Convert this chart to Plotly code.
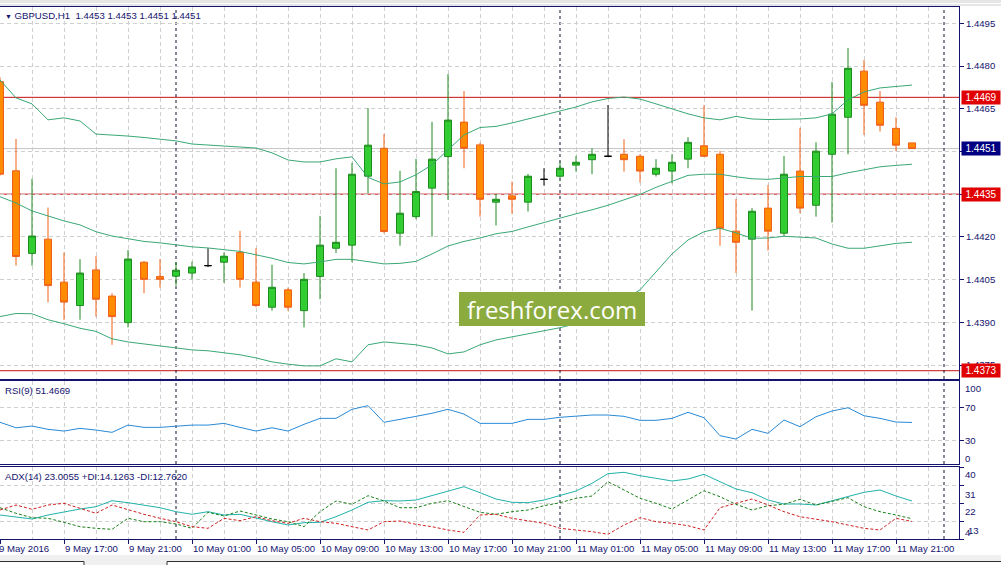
import pandas as pd
import plotly.graph_objects as go
from plotly.subplots import make_subplots

# GBPUSD H1, 9 May 13:00 .. 11 May 22:00
times = pd.date_range("2016-05-09 13:00", periods=58, freq="h")

opens = [1.44745, 1.44432, 1.44142, 1.44192, 1.44041, 1.43959, 1.44084, 1.43992, 1.43899, 1.44111,
         1.44061, 1.44062, 1.44073, 1.44099, 1.44111, 1.44145, 1.44041, 1.43953, 1.44014, 1.43941,
         1.44061, 1.44160, 1.44171, 1.44413, 1.44511, 1.44213, 1.44271, 1.44371, 1.44482, 1.44603,
         1.44523, 1.44322, 1.44344, 1.44322, 1.44402, 1.44413, 1.44452, 1.44471, 1.44483, 1.44490,
         1.44483, 1.44420, 1.44431, 1.44473, 1.44520, 1.44490, 1.44220, 1.44192, 1.44301, 1.44213,
         1.44431, 1.44311, 1.44490, 1.44620, 1.44782, 1.44673, 1.44581, 1.44530]
highs = [1.44760, 1.44544, 1.44404, 1.44303, 1.44145, 1.44122, 1.44133, 1.44002, 1.44154, 1.44115,
         1.44122, 1.44111, 1.44113, 1.44160, 1.44145, 1.44221, 1.44160, 1.44102, 1.44022, 1.44073,
         1.44274, 1.44441, 1.44460, 1.44652, 1.44561, 1.44432, 1.44474, 1.44604, 1.44772, 1.44712,
         1.44530, 1.44351, 1.44394, 1.44421, 1.44441, 1.44464, 1.44484, 1.44511, 1.44663, 1.44543,
         1.44490, 1.44473, 1.44490, 1.44550, 1.44662, 1.44502, 1.44333, 1.44301, 1.44382, 1.44484,
         1.44583, 1.44532, 1.44744, 1.44863, 1.44821, 1.44712, 1.44620, 1.44530]
lows = [1.44415, 1.44099, 1.44099, 1.43970, 1.43909, 1.43909, 1.43920, 1.43821, 1.43882, 1.44002,
        1.44022, 1.44029, 1.44051, 1.44094, 1.44039, 1.44022, 1.43953, 1.43941, 1.43941, 1.43882,
        1.43981, 1.44143, 1.44111, 1.44353, 1.44213, 1.44169, 1.44262, 1.44201, 1.44330, 1.44441,
        1.44271, 1.44240, 1.44281, 1.44289, 1.44380, 1.44406, 1.44429, 1.44420, 1.44483, 1.44429,
        1.44391, 1.44412, 1.44388, 1.44441, 1.44480, 1.44169, 1.44073, 1.43941, 1.44152, 1.44203,
        1.44283, 1.44271, 1.44250, 1.44490, 1.44558, 1.44570, 1.44501, 1.44510]
closes = [1.44420, 1.44131, 1.44203, 1.44029, 1.43971, 1.44073, 1.43981, 1.43920, 1.44122, 1.44051,
          1.44051, 1.44083, 1.44094, 1.44099, 1.44132, 1.44051, 1.43959, 1.44023, 1.43953, 1.44051,
          1.44171, 1.44181, 1.44420, 1.44522, 1.44219, 1.44283, 1.44359, 1.44473, 1.44610, 1.44511,
          1.44332, 1.44332, 1.44332, 1.44413, 1.44402, 1.44441, 1.44462, 1.44490, 1.44483, 1.44471,
          1.44431, 1.44441, 1.44462, 1.44532, 1.44483, 1.44230, 1.44181, 1.44290, 1.44220, 1.44420,
          1.44301, 1.44501, 1.44631, 1.44792, 1.44662, 1.44592, 1.44522, 1.44510]

bb_upper = [1.44751, 1.44688, 1.44667, 1.44611, 1.44618, 1.44607, 1.44561, 1.44558, 1.44554, 1.44549,
            1.44544, 1.44537, 1.44526, 1.44523, 1.44519, 1.44516, 1.44512, 1.44495, 1.44470, 1.44463,
            1.44463, 1.44474, 1.44481, 1.44409, 1.44386, 1.44393, 1.44418, 1.44453, 1.44505, 1.44558,
            1.44584, 1.44588, 1.44600, 1.44614, 1.44628, 1.44642, 1.44656, 1.44674, 1.44686, 1.44691,
            1.44684, 1.44667, 1.44649, 1.44632, 1.44618, 1.44611, 1.44623, 1.44614, 1.44612, 1.44612,
            1.44614, 1.44618, 1.44632, 1.44681, 1.44709, 1.44723, 1.44728, 1.44733]
bb_middle = [1.44341, 1.44319, 1.44291, 1.44274, 1.44256, 1.44242, 1.44218, 1.44203, 1.44193, 1.44184,
             1.44179, 1.44172, 1.44165, 1.44161, 1.44156, 1.44149, 1.44137, 1.44125, 1.44110, 1.44105,
             1.44112, 1.44121, 1.44121, 1.44114, 1.44105, 1.44107, 1.44114, 1.44140, 1.44168, 1.44184,
             1.44196, 1.44211, 1.44219, 1.44235, 1.44251, 1.44266, 1.44281, 1.44295, 1.44311, 1.44330,
             1.44349, 1.44374, 1.44396, 1.44416, 1.44420, 1.44420, 1.44411, 1.44404, 1.44402, 1.44407,
             1.44412, 1.44412, 1.44412, 1.44425, 1.44435, 1.44446, 1.44451, 1.44455]
bb_lower = [1.43920, 1.43931, 1.43930, 1.43909, 1.43895, 1.43879, 1.43868, 1.43842, 1.43831, 1.43824,
            1.43817, 1.43809, 1.43803, 1.43800, 1.43794, 1.43786, 1.43775, 1.43761, 1.43753, 1.43747,
            1.43747, 1.43772, 1.43761, 1.43821, 1.43831, 1.43826, 1.43821, 1.43810, 1.43789, 1.43796,
            1.43821, 1.43838, 1.43849, 1.43860, 1.43870, 1.43881, 1.43895, 1.43923, 1.43951, 1.43979,
            1.44014, 1.44077, 1.44140, 1.44189, 1.44218, 1.44230, 1.44214, 1.44195, 1.44196, 1.44202,
            1.44200, 1.44196, 1.44175, 1.44160, 1.44160, 1.44168, 1.44177, 1.44181]

rsi = [51.7, 45.0, 47.1, 43.1, 41.0, 44.3, 42.2, 39.4, 48.3, 45.5,
       45.5, 46.8, 48.3, 48.3, 50.4, 45.5, 41.0, 45.0, 41.0, 49.2,
       56.5, 56.5, 67.6, 72.0, 51.7, 55.3, 59.0, 62.7, 67.6, 61.8,
       50.4, 50.4, 50.4, 55.3, 55.3, 57.8, 59.4, 60.6, 60.6, 59.0,
       54.1, 54.1, 56.5, 63.9, 57.3, 35.3, 31.2, 43.1, 38.2, 54.5,
       46.3, 58.5, 65.5, 69.5, 59.7, 56.5, 52.0, 51.47]

adx = [16.0, 15.0, 14.0, 16.0, 17.65, 19.0, 20.15, 23.15, 22.15, 21.0,
       19.65, 17.65, 16.35, 17.65, 16.0, 16.35, 14.35, 12.65, 11.0, 12.15,
       12.35, 15.15, 18.5, 22.35, 23.15, 23.0, 23.5, 25.65, 27.65, 30.15,
       27.15, 24.0, 22.35, 22.15, 23.5, 25.65, 28.0, 31.85, 36.65, 37.35,
       35.65, 34.35, 33.0, 34.0, 36.35, 32.65, 29.0, 27.15, 23.5, 21.5,
       21.5, 21.0, 23.0, 25.15, 27.35, 28.5, 25.5, 23.0]
plus_di = [19.65, 16.85, 14.65, 14.35, 12.35, 10.15, 9.35, 8.85, 14.35, 12.65,
           12.65, 11.5, 9.35, 17.35, 15.5, 18.0, 16.0, 14.0, 12.65, 10.15,
           17.65, 23.0, 21.35, 25.65, 23.0, 19.65, 19.65, 21.85, 23.15, 20.15,
           17.35, 16.35, 17.65, 18.5, 20.65, 22.15, 24.35, 25.5, 32.65, 28.5,
           24.35, 21.85, 19.0, 23.5, 28.15, 25.15, 21.35, 18.5, 20.65, 21.35,
           23.85, 21.0, 23.0, 24.65, 20.15, 17.65, 16.0, 14.13]
minus_di = [18.5, 21.0, 18.85, 21.0, 21.85, 19.5, 16.85, 21.0, 18.5, 16.35,
            14.35, 12.65, 10.15, 9.35, 14.35, 13.15, 15.15, 13.15, 11.85, 14.35,
            12.65, 11.85, 10.15, 8.5, 12.65, 13.0, 11.35, 10.15, 8.5, 7.35,
            16.0, 16.35, 14.35, 13.0, 11.85, 9.35, 8.5, 7.65, 6.35, 11.0,
            14.65, 12.65, 11.85, 10.65, 8.5, 19.65, 21.85, 24.0, 21.0, 17.65,
            15.15, 14.0, 12.65, 11.0, 9.35, 8.5, 14.35, 12.76]

levels = [1.4469, 1.4435, 1.4373]
bid = 1.4451
price_ticks = [1.4495, 1.4480, 1.4465, 1.4450, 1.4435, 1.4420, 1.4405, 1.4390, 1.4375]
# scale labels hidden behind the price boxes on the right
hidden_ticks = [1.4450, 1.4435]
label_times = pd.date_range("2016-05-09 13:00", periods=15, freq="4h")
label_text = ["9 May 2016"] + [f"{t.day} {t:%b %H:%M}" for t in label_times[1:]]
grid_times = pd.date_range("2016-05-09 15:00", "2016-05-12 00:00", freq="2h")
separators = ["2016-05-10 00:00", "2016-05-11 00:00", "2016-05-12 00:00"]

NAVY = "#14146e"
GRID = "#cfcfcf"
W, H = 1001, 565
PLOT_W = 959  # width of the plotting area (paper x runs 0..1 over it)


def py(px):
    # pixel row -> paper y
    return 1 - px / H


def pxx(px):
    # pixel column -> paper x
    return px / PLOT_W


fig = make_subplots(rows=3, cols=1, shared_xaxes=True, vertical_spacing=0.01)

normal = [i for i in range(len(times)) if opens[i] != closes[i]]
doji = [i for i in range(len(times)) if opens[i] == closes[i]]


def pick(values, idx):
    return [values[i] for i in idx]


fig.add_trace(go.Candlestick(
    x=times[normal], open=pick(opens, normal), high=pick(highs, normal),
    low=pick(lows, normal), close=pick(closes, normal),
    increasing=dict(line=dict(color="#1e8c1e", width=1), fillcolor="#32cd32"),
    decreasing=dict(line=dict(color="#f0601a", width=1), fillcolor="#ff8c00"),
    whiskerwidth=0, hoverinfo="skip"), row=1, col=1)
fig.add_trace(go.Candlestick(
    x=times[doji], open=pick(opens, doji), high=pick(highs, doji),
    low=pick(lows, doji), close=pick(closes, doji),
    increasing=dict(line=dict(color="black", width=1), fillcolor="black"),
    decreasing=dict(line=dict(color="black", width=1), fillcolor="black"),
    whiskerwidth=0, hoverinfo="skip"), row=1, col=1)

for band in (bb_upper, bb_middle, bb_lower):
    fig.add_trace(go.Scatter(x=times, y=band, mode="lines",
                             line=dict(color="#3aa876", width=1)), row=1, col=1)

fig.add_trace(go.Scatter(x=times, y=rsi, mode="lines",
                         line=dict(color="#2a8ad6", width=1)), row=2, col=1)

fig.add_trace(go.Scatter(x=times, y=adx, mode="lines",
                         line=dict(color="#20b2aa", width=1)), row=3, col=1)
fig.add_trace(go.Scatter(x=times, y=plus_di, mode="lines",
                         line=dict(color="#1a801a", width=1, dash="3px,2px")), row=3, col=1)
fig.add_trace(go.Scatter(x=times, y=minus_di, mode="lines",
                         line=dict(color="#d02020", width=1, dash="3px,2px")), row=3, col=1)

x_range = [times[0], times[0] + pd.Timedelta(hours=PLOT_W / 16)]
for r in (1, 2, 3):
    fig.update_xaxes(
        row=r, col=1, type="date", range=x_range, rangeslider_visible=False,
        tickmode="array", tickvals=label_times, showticklabels=False,
        ticks="outside" if r == 3 else "", ticklen=4, tickcolor=NAVY,
        showgrid=True, gridcolor=GRID, griddash="4px,3px", gridwidth=1,
        minor=dict(tickmode="array", tickvals=grid_times, showgrid=True,
                   gridcolor=GRID, griddash="4px,3px", gridwidth=1),
        showline=True, linecolor=NAVY, linewidth=1, mirror=True, zeroline=False)

fig.update_yaxes(
    row=1, col=1, domain=[py(379), py(7)], range=[1.437009, 1.450072], side="right",
    tickmode="array", tickvals=price_ticks,
    ticktext=["" if v in hidden_ticks else f"{v:.4f}" for v in price_ticks],
    ticks="outside", ticklen=4, tickcolor=NAVY, showgrid=True, gridcolor=GRID,
    griddash="4px,3px", showline=True, linecolor=NAVY, zeroline=False)
fig.update_yaxes(
    row=2, col=1, domain=[py(464), py(381)], range=[0.7, 102.2], side="right",
    tickmode="array", tickvals=[70, 30], showticklabels=False,
    ticks="outside", ticklen=4, tickcolor=NAVY, showgrid=True, gridcolor=GRID,
    griddash="4px,3px", showline=True, linecolor=NAVY, zeroline=False)
fig.update_yaxes(
    row=3, col=1, domain=[py(539), py(467)], range=[4, 40], side="right",
    tickmode="array", tickvals=[40, 31, 22, 13, 4], showticklabels=False,
    ticks="outside", ticklen=4, tickcolor=NAVY, showgrid=True, gridcolor=GRID,
    griddash="4px,3px", showline=True, linecolor=NAVY, zeroline=False)

shapes = []
# bid line and horizontal levels
shapes.append(dict(type="line", xref="x domain", yref="y", x0=0, x1=1, y0=bid, y1=bid,
                   line=dict(color="#c4c4c4", width=1), layer="below"))
for lv in levels:
    shapes.append(dict(type="line", xref="x domain", yref="y", x0=0, x1=1, y0=lv, y1=lv,
                       line=dict(color="#c81010", width=1), layer="below"))
# day separators in every panel
for s in separators:
    for ax in ("", "2", "3"):
        shapes.append(dict(type="line", xref="x" + ax, yref=f"y{ax} domain", x0=s, x1=s, y0=0, y1=1,
                           line=dict(color="#101030", width=1, dash="3px,3px"), layer="below"))
# watermark box
shapes.append(dict(type="rect", xref="paper", yref="paper", x0=pxx(459), x1=pxx(645),
                   y0=py(326), y1=py(292), fillcolor="#8cab3e", line=dict(width=0), layer="above"))
# window chrome: top strip and bottom tabs
shapes.append(dict(type="rect", xref="paper", yref="paper", x0=pxx(-2), x1=pxx(W + 2), y0=py(6), y1=py(-2),
                   fillcolor="#e6e6e6", line=dict(width=0), layer="above"))
shapes.append(dict(type="line", xref="paper", yref="paper", x0=pxx(-2), x1=pxx(W + 2), y0=py(3.5), y1=py(3.5),
                   line=dict(color="#ffffff", width=1), layer="above"))
shapes.append(dict(type="rect", xref="paper", yref="paper", x0=pxx(-2), x1=pxx(W + 2), y0=py(567), y1=py(555),
                   fillcolor="#f0f0f0", line=dict(width=0), layer="above"))
shapes.append(dict(type="rect", xref="paper", yref="paper", x0=pxx(-1), x1=pxx(84), y0=py(568), y1=py(561.5),
                   fillcolor="white", line=dict(color="#303030", width=1), layer="above"))
shapes.append(dict(type="rect", xref="paper", yref="paper", x0=pxx(167), x1=pxx(W + 5), y0=py(568), y1=py(561.5),
                   fillcolor="white", line=dict(color="#303030", width=1), layer="above"))

ann = []
font = dict(family="Liberation Sans", size=9.6, color=NAVY)
ann.append(dict(xref="paper", yref="paper", x=pxx(3), y=py(15), xanchor="left", yanchor="middle",
                showarrow=False, font=font,
                text="<span style='font-size:7px'>▼</span>\u00a0GBPUSD,H1\u00a0\u00a01.4453 1.4453 1.4451 1.4451"))
ann.append(dict(xref="paper", yref="paper", x=pxx(3), y=py(390.5), xanchor="left", yanchor="middle",
                showarrow=False, font=font, text="RSI(9) 51.4669"))
ann.append(dict(xref="paper", yref="paper", x=pxx(3), y=py(476), xanchor="left", yanchor="middle",
                showarrow=False, font=font, text="ADX(14) 23.0055 +DI:14.1263 -DI:12.7620"))

# RSI and ADX scale labels
for txt, ypx in [("100", 388), ("70", 407.7), ("30", 440.3), ("0", 458.3),
                 ("40", 474.3), ("31", 494.3), ("22", 511.7), ("13", 530), ("4", 532)]:
    ann.append(dict(xref="paper", yref="paper", x=pxx(963 if txt != "13" else 965.5), y=py(ypx),
                    xanchor="left", yanchor="middle", showarrow=False, font=font, text=txt))

# price labels on the right scale
for lv, col in [(levels[0], "#e00000"), (bid, "#000080"), (levels[1], "#e00000"), (levels[2], "#e00000")]:
    ann.append(dict(xref="paper", yref="y", x=pxx(961), y=lv, xanchor="left", yanchor="middle",
                    showarrow=False, text=f"{lv:.4f}", bgcolor=col, width=36, height=11,
                    borderpad=1, align="center", font=dict(family="Liberation Sans", size=10, color="white")))

# time labels
for t, txt in zip(label_times, label_text):
    ann.append(dict(xref="x", yref="paper", x=t, y=py(548.5), xanchor="left", yanchor="middle",
                    xshift=-3 if txt == "9 May 2016" else -1, showarrow=False, font=font, text=txt))

ann.append(dict(xref="paper", yref="paper", x=pxx(552), y=py(309), xanchor="center", yanchor="middle",
                showarrow=False, text="freshforex.com",
                font=dict(family="Open Sans", size=24, color="white")))

fig.update_layout(
    width=W, height=H, margin=dict(l=0, r=W - PLOT_W, t=0, b=0),
    paper_bgcolor="white", plot_bgcolor="rgba(0,0,0,0)", showlegend=False,
    boxgap=0.375, font=font, shapes=shapes, annotations=ann, hovermode=False)

fig.write_html("out.html", config={"displayModeBar": False},
               post_script="document.body.style.margin='0px';")
